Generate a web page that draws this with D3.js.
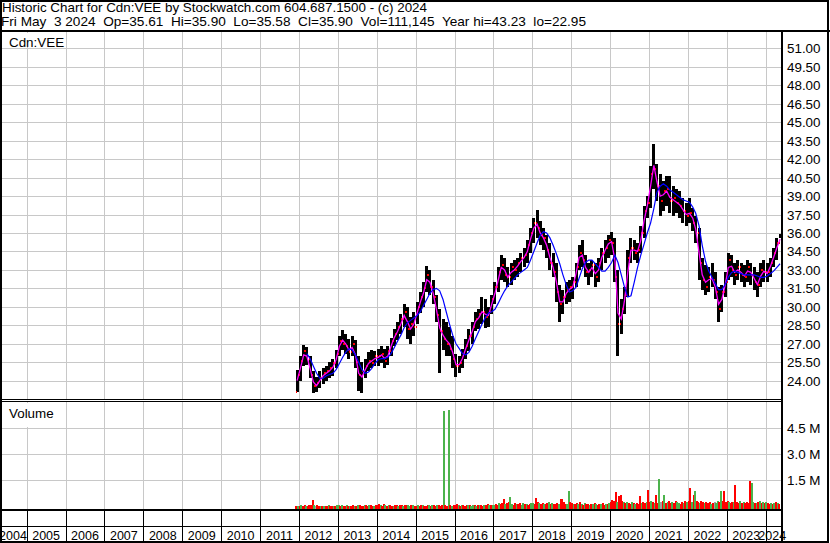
<!DOCTYPE html>
<html>
<head>
<meta charset="utf-8">
<script src="https://cdn.jsdelivr.net/npm/d3@7"></script>
<style>
    body { margin: 0; background: #fff; }
    svg { display: block; font-family: Arial, "Liberation Sans", sans-serif; }
</style>
</head>
<body>
<svg width="830" height="543"></svg>
<script>
// header text
let title1 = "Historic Chart for Cdn:VEE by Stockwatch.com 604.687.1500 - (c) 2024";
let title2 = "Fri May\u00a0 3 2024\u00a0 Op=35.61\u00a0 Hi=35.90\u00a0 Lo=35.58\u00a0 Cl=35.90\u00a0 Vol=111,145\u00a0 Year hi=43.23\u00a0 lo=22.95";

// monthly price data, first month Dec 2011
let priceStart = [2011, 11];
let highs = [24.9,
    26.0, 26.9, 26.7, 26.0, 24.8, 24.3, 24.8, 25.0, 25.2, 25.5, 25.8, 26.5,
    27.6, 28.1, 27.8, 27.4, 27.6, 27.3, 26.0, 25.5, 25.8, 26.3, 26.5, 26.4,
    26.6, 26.8, 26.6, 26.8, 27.5, 28.2, 28.8, 29.4, 30.2, 30.0, 29.2, 29.6,
    30.4, 31.2, 32.0, 33.3, 33.0, 32.2, 31.0, 29.8, 29.0, 28.8, 28.4, 27.6,
    26.2, 26.0, 26.6, 27.4, 28.2, 28.8, 29.6, 29.8, 30.8, 30.6, 30.0, 31.0,
    32.0, 33.2, 34.2, 34.0, 33.2, 33.6, 33.8, 34.0, 34.4, 34.8, 35.4, 36.4,
    37.2, 37.9, 37.0, 36.4, 35.8, 35.2, 34.4, 33.6, 31.8, 31.4, 32.0, 32.2,
    32.4, 33.6, 35.0, 35.4, 34.2, 33.6, 33.8, 33.6, 34.0, 34.8, 35.4, 35.8,
    36.1, 35.6, 33.0, 30.6, 31.6, 34.6, 35.6, 35.4, 35.2, 36.6, 38.2, 39.0,
    41.4, 43.2, 41.6, 40.8, 40.2, 40.6, 40.6, 39.8, 39.6, 39.4, 38.8, 38.4,
    38.8, 38.0, 37.4, 36.4, 34.0, 33.4, 33.2, 33.6, 32.8, 31.6, 31.8, 32.8,
    34.4, 34.2, 33.6, 33.8, 33.6, 33.4, 33.8, 33.6, 33.2, 32.8, 33.6, 33.8,
    33.6, 34.0, 34.8, 35.6, 35.9];
let lows = [23.1,
    24.0, 25.2, 25.3, 24.2, 23.0, 23.1, 23.4, 23.7, 24.0, 24.2, 24.4, 25.0,
    26.0, 26.5, 26.2, 25.8, 26.0, 25.0, 23.2, 23.0, 24.2, 24.8, 25.0, 25.2,
    25.2, 25.4, 25.0, 25.3, 26.0, 26.8, 27.3, 27.8, 28.4, 27.4, 27.0, 27.6,
    28.6, 29.5, 30.0, 31.2, 31.0, 30.2, 28.8, 24.6, 26.5, 26.0, 26.0, 25.0,
    24.3, 24.6, 25.0, 25.8, 26.4, 27.0, 28.0, 28.2, 28.6, 28.3, 28.4, 29.4,
    30.2, 31.2, 32.2, 32.0, 31.6, 31.8, 32.2, 32.4, 32.8, 33.2, 33.6, 34.4,
    35.2, 35.6, 35.0, 34.6, 34.0, 33.0, 32.4, 30.4, 28.8, 29.4, 30.2, 30.4,
    30.6, 31.6, 33.0, 33.2, 32.4, 31.8, 32.4, 31.6, 32.0, 33.0, 33.6, 34.0,
    34.2, 32.0, 26.0, 27.8, 29.4, 30.8, 33.6, 33.8, 33.6, 34.4, 35.6, 37.2,
    38.0, 39.6, 38.6, 37.4, 37.8, 38.2, 37.6, 37.4, 37.6, 37.2, 36.8, 36.6,
    36.8, 36.2, 35.2, 32.2, 31.4, 31.0, 31.2, 31.6, 30.6, 28.8, 29.6, 30.8,
    32.2, 32.4, 31.8, 32.2, 32.0, 31.6, 32.0, 31.8, 31.4, 30.8, 31.6, 32.0,
    32.0, 32.4, 33.2, 33.8, 35.58];
let closes = [24.5,
    25.6, 26.4, 25.8, 24.5, 23.6, 23.8, 24.2, 24.6, 24.8, 25.0, 25.4, 26.2,
    27.2, 27.0, 26.8, 26.3, 27.0, 25.5, 24.5, 24.8, 25.2, 25.6, 25.4, 26.0,
    26.0, 26.2, 25.6, 26.4, 27.2, 27.8, 28.4, 29.0, 29.6, 28.2, 28.6, 28.4,
    30.0, 30.8, 31.5, 32.6, 31.6, 30.8, 29.3, 28.0, 27.4, 27.0, 26.6, 25.8,
    25.2, 25.4, 26.2, 26.8, 27.6, 28.4, 29.0, 29.4, 29.6, 29.2, 29.6, 30.6,
    31.6, 32.8, 33.4, 32.6, 32.4, 33.2, 33.0, 33.6, 34.0, 34.2, 35.0, 36.0,
    36.8, 36.4, 35.8, 35.6, 34.6, 33.6, 32.8, 31.2, 30.2, 30.8, 31.4, 31.6,
    32.0, 33.2, 34.4, 33.8, 32.8, 33.0, 33.4, 32.4, 33.6, 34.4, 34.8, 35.4,
    35.2, 32.4, 28.6, 29.8, 31.0, 34.0, 34.8, 34.4, 34.6, 36.0, 37.8, 38.4,
    40.8, 41.2, 39.8, 38.6, 39.4, 39.6, 38.6, 38.8, 38.4, 38.2, 37.8, 37.4,
    37.6, 36.8, 36.0, 33.6, 32.2, 31.6, 32.4, 32.2, 31.2, 29.8, 31.2, 32.0,
    33.8, 33.0, 32.6, 33.2, 32.6, 32.4, 33.2, 32.6, 32.0, 31.8, 33.0, 32.8,
    32.8, 33.6, 34.4, 35.2, 35.9];
// short average (magenta)
let fastAvg = [24.0,
    25.0, 26.1, 26.0, 25.0, 23.9, 23.6, 24.0, 24.4, 24.6, 24.8, 25.1, 25.7,
    26.8, 27.3, 27.0, 26.5, 26.7, 26.1, 24.6, 24.3, 24.9, 25.4, 25.6, 25.8,
    25.9, 26.1, 25.8, 26.0, 26.8, 27.5, 28.0, 28.6, 29.3, 28.8, 28.2, 28.6,
    29.5, 30.4, 31.1, 32.2, 32.0, 31.1, 29.8, 28.3, 27.7, 27.3, 27.0, 26.3,
    25.3, 25.3, 25.8, 26.6, 27.3, 28.0, 28.8, 29.1, 29.6, 29.4, 29.3, 30.2,
    31.1, 32.2, 33.2, 33.0, 32.4, 32.8, 33.0, 33.3, 33.7, 34.0, 34.5, 35.5,
    36.4, 36.7, 36.0, 35.6, 35.0, 34.0, 33.2, 32.0, 30.4, 30.4, 31.1, 31.4,
    31.6, 32.7, 34.0, 34.2, 33.2, 32.8, 33.2, 32.7, 33.0, 34.0, 34.6, 35.1,
    35.3, 33.8, 29.5, 29.0, 30.5, 32.8, 34.6, 34.6, 34.5, 35.4, 37.0, 38.2,
    39.8, 41.5, 40.2, 39.0, 39.1, 39.4, 38.9, 38.7, 38.5, 38.3, 37.9, 37.5,
    37.6, 37.2, 36.3, 34.4, 32.6, 32.0, 32.2, 32.3, 31.6, 30.2, 30.6, 31.7,
    33.2, 33.3, 32.8, 33.0, 32.8, 32.5, 32.9, 32.8, 32.3, 31.8, 32.5, 32.9,
    32.7, 33.3, 34.0, 34.8, 35.5];
// long average (blue)
let slowAvg = [null,
    null, null, 26.2, 25.8, 25.2, 24.6, 24.2, 24.2, 24.4, 24.5, 24.6, 24.9,
    25.4, 25.9, 26.3, 26.6, 26.5, 26.1, 25.5, 24.9, 24.6, 24.7, 25.0, 25.4,
    25.7, 25.8, 25.8, 25.9, 26.2, 26.7, 27.2, 27.7, 28.3, 28.7, 28.9, 29.1,
    29.3, 29.6, 30.1, 30.6, 31.1, 31.4, 31.5, 31.3, 30.6, 29.6, 28.6, 27.7,
    27.0, 26.6, 26.2, 26.1, 26.3, 26.8, 27.4, 28.0, 28.6, 29.1, 29.5, 29.6,
    29.8, 30.3, 30.8, 31.3, 31.7, 32.0, 32.3, 32.6, 32.8, 33.0, 33.2, 33.8,
    34.5, 35.2, 35.8, 36.1, 36.0, 35.6, 35.0, 34.3, 33.5, 32.6, 31.8, 31.2,
    31.3, 31.6, 32.3, 33.1, 33.6, 33.8, 33.8, 33.5, 33.2, 32.9, 32.9, 33.2,
    33.6, 34.2, 33.6, 32.6, 31.6, 30.8, 30.9, 32.0, 33.2, 34.2, 35.1, 36.0,
    36.8, 38.0, 39.3, 39.8, 40.0, 39.8, 39.5, 39.3, 39.1, 38.9, 38.7, 38.6,
    38.5, 38.1, 37.6, 36.6, 35.0, 33.7, 32.9, 32.4, 31.9, 31.4, 31.4, 31.8,
    32.4, 32.8, 32.9, 32.8, 32.7, 32.6, 32.6, 32.6, 32.6, 32.5, 32.4, 32.4,
    32.5, 32.7, 32.9, 33.2, 33.5];

// half-month volume in thousands, first half Dec 2011
let volStart = [2011, 11];
let volumes = [30, 40,
    40, 60, 30, 50, 40, 30, 60, 50, 360, 80, 30, 50, 40, 30, 20, 30, 40, 30, 50, 30, 40, 30, 40, 50,
    50, 40, 60, 40, 30, 50, 40, 30, 40, 50, 40, 30, 60, 50, 40, 30, 50, 80, 40, 60, 50, 40, 30, 50,
    60, 150, 50, 40, 110, 50, 40, 60, 50, 40, 30, 60, 50, 40, 60, 50, 40, 60, 90, 50, 40, 70, 50, 40,
    40, 50, 40, 60, 50, 40, 30, 70, 50, 40, 90, 50, 40, 90, 50, 40, 60, 5520, 50, 40, 5570, 60, 40, 50,
    60, 150, 50, 40, 60, 50, 40, 70, 50, 60, 40, 80, 50, 40, 60, 50, 60, 40, 70, 50, 130, 60, 50, 70,
    80, 150, 100, 190, 130, 190, 420, 150, 190, 250, 537, 130, 100, 190, 150, 130, 190, 100, 190, 130, 150, 100, 150, 190,
    190, 130, 460, 250, 190, 130, 190, 150, 130, 190, 250, 130, 190, 150, 130, 190, 150, 400, 420, 250, 150, 130, 880, 250,
    190, 150, 130, 190, 150, 250, 130, 100, 190, 130, 150, 100, 130, 150, 190, 130, 100, 150, 130, 190, 100, 130, 150, 190,
    250, 380, 300, 830, 250, 600, 650, 300, 250, 190, 250, 190, 150, 250, 190, 130, 190, 150, 600, 190, 250, 190, 250, 940,
    250, 300, 250, 190, 650, 190, 1575, 250, 300, 650, 190, 250, 300, 190, 250, 190, 300, 250, 190, 150, 250, 190, 300, 250,
    300, 1060, 250, 650, 880, 300, 250, 190, 300, 250, 190, 250, 190, 250, 150, 190, 250, 190, 300, 250, 880, 300, 880, 250,
    300, 250, 190, 250, 250, 1230, 250, 190, 300, 190, 250, 190, 250, 190, 1460, 1340, 250, 190, 190, 250, 300, 190, 250, 190,
    250, 190, 150, 190, 130, 190, 250, 190, 150];
// r = down, g = up, n = unchanged
let volDirs = "rg" +
    "rgrrgr rrrgnr rgrgrr grrgrg" +
    "grgrrg rgrrgr grrrgr rgrrgr" +
    "rrgrrg rgrrgr rgrrgr rggrgr" +
    "rgrrgr rrgrgr rgrrrg rrgrgr" +
    "rrgrgr rrgrgg rgrgrr grrgrg" +
    "grrgrr rgrrgg rrgrrg grgrrg" +
    "grrrgr rgrrgr grrrgr rrrggr" +
    "rgrrgr grgrrg rgrgrr grrgrg" +
    "rrrrgr rrgrgr rgrgrr rgrrgr" +
    "rgrgrr gnrgrg rrgrrg grrgrg" +
    "rrgrgr rgrrgr rrgrng grgrrr" +
    "rgrrgr rrgrgr rrrggr grgrgr" +
    "grrgrgrgr";

let priceTicks = [24, 25.5, 27, 28.5, 30, 31.5, 33, 34.5, 36, 37.5, 39, 40.5, 42, 43.5, 45, 46.5, 48, 49.5, 51];
let volTicks = [1.5, 3.0, 4.5];
let years = d3.range(2004, 2025);

let svg = d3.select("svg");
let lastDay = new Date(2024, 4, 3);

let x = d3.scaleTime()
    .domain([new Date(2005, 0, 1), new Date(2024, 0, 1)])
    .range([26.7, 765.7]);
let y = d3.scaleLinear().domain([24, 51]).range([380.7, 48.3]);
let yv = d3.scaleLinear().domain([0, 4.5]).range([506.3, 428.3]);

let plotRight = 781;
let priceTop = 32, priceBottom = 400;
let volTop = 402, volBottom = 509;

// gridlines
let grid = svg.append("g").attr("stroke", "#c8c8c8").attr("stroke-width", 1).attr("shape-rendering", "crispEdges");
years.slice(1).forEach(function (yr) {
    let gx = Math.round(x(new Date(yr, 0, 1))) + 0.5;
    grid.append("line").attr("x1", gx).attr("x2", gx).attr("y1", priceTop).attr("y2", priceBottom);
    grid.append("line").attr("x1", gx).attr("x2", gx).attr("y1", volTop).attr("y2", volBottom);
});
priceTicks.forEach(function (t) {
    let gy = Math.round(y(t)) + 0.5;
    grid.append("line").attr("x1", 0).attr("x2", plotRight).attr("y1", gy).attr("y2", gy);
});
volTicks.forEach(function (t) {
    let gy = Math.round(yv(t)) + 0.5;
    grid.append("line").attr("x1", 0).attr("x2", plotRight).attr("y1", gy).attr("y2", gy);
});

// panel labels with white boxes
svg.append("rect").attr("x", 4).attr("y", 33).attr("width", 60).attr("height", 14).attr("fill", "#fff");
svg.append("text").attr("x", 9).attr("y", 46.5).attr("font-size", "13.4px").text("Cdn:VEE");
svg.append("rect").attr("x", 4).attr("y", 403).attr("width", 60).attr("height", 24).attr("fill", "#fff");
svg.append("text").attr("x", 9).attr("y", 418).attr("font-size", "13.4px").text("Volume");

// price bars
let bars = highs.map(function (h, i) {
    return {
        date: new Date(priceStart[0], priceStart[1] + i, 15),
        hi: h, lo: lows[i], cl: closes[i],
        op: i > 0 ? closes[i - 1] : lows[i],
        fast: fastAvg[i], slow: slowAvg[i]
    };
});

let barG = svg.append("g").attr("shape-rendering", "crispEdges");
barG.selectAll("rect.bar")
    .data(bars)
    .enter().append("rect")
    .attr("class", "bar")
    .attr("x", function (d) { return Math.floor(x(d.date)) - 1; })
    .attr("width", 3)
    .attr("y", function (d) { return y(d.hi); })
    .attr("height", function (d) { return y(d.lo) - y(d.hi); })
    .attr("fill", "#000");
barG.selectAll("rect.cl")
    .data(bars)
    .enter().append("rect")
    .attr("class", "cl")
    .attr("x", function (d) { return Math.floor(x(d.date)) + 1; })
    .attr("width", 1)
    .attr("y", function (d) { return y(d.cl) - 1; })
    .attr("height", 2)
    .attr("fill", "#ff0000");
barG.selectAll("rect.op")
    .data(bars)
    .enter().append("rect")
    .attr("class", "op")
    .attr("x", function (d) { return Math.floor(x(d.date)) - 1; })
    .attr("width", 1)
    .attr("y", function (d) { return y(d.op) - 1; })
    .attr("height", 2)
    .attr("fill", "#ff0000");

// averages
let fastLine = d3.line()
    .x(function (d) { return x(d.date); })
    .y(function (d) { return y(d.fast); });
let slowLine = d3.line()
    .defined(function (d) { return d.slow !== null; })
    .x(function (d) { return x(d.date); })
    .y(function (d) { return y(d.slow); });

svg.append("path").datum(bars).attr("d", fastLine)
    .attr("fill", "none").attr("stroke", "#ff00ff").attr("stroke-width", 1.3);
svg.append("path").datum(bars).attr("d", slowLine)
    .attr("fill", "none").attr("stroke", "#0000ff").attr("stroke-width", 1.2);

// volume bars
let dirs = volDirs.replace(/ /g, "");
let volColors = {r: "#ff0000", g: "#4cb34c", n: "#a0a0a0"};
let vols = volumes.map(function (v, i) {
    let m = Math.floor(i / 2);
    return {
        date: new Date(volStart[0], volStart[1] + m, i % 2 === 0 ? 8 : 23),
        v: v / 1000,
        dir: dirs[i] || "r"
    };
});
svg.append("g").attr("shape-rendering", "crispEdges")
    .selectAll("rect")
    .data(vols)
    .enter().append("rect")
    .attr("x", function (d) { return Math.round(x(d.date)) - 1; })
    .attr("width", 2)
    .attr("y", function (d) { return Math.round(yv(d.v)); })
    .attr("height", function (d) { return volBottom - Math.round(yv(d.v)); })
    .attr("fill", function (d) { return volColors[d.dir]; });

// frame lines
let frame = svg.append("g").attr("stroke", "#000").attr("shape-rendering", "crispEdges").attr("fill", "none");
frame.append("line").attr("x1", 0).attr("x2", 830).attr("y1", 31).attr("y2", 31).attr("stroke-width", 2);
frame.append("line").attr("x1", 0).attr("x2", plotRight).attr("y1", 399.5).attr("y2", 399.5);
frame.append("line").attr("x1", 0).attr("x2", plotRight).attr("y1", 401.5).attr("y2", 401.5);
frame.append("line").attr("x1", 0).attr("x2", plotRight).attr("y1", 510).attr("y2", 510).attr("stroke-width", 2);
frame.append("line").attr("x1", 0).attr("x2", plotRight).attr("y1", 526.5).attr("y2", 526.5);
frame.append("line").attr("x1", plotRight + 1).attr("x2", plotRight + 1).attr("y1", 31).attr("y2", 542).attr("stroke-width", 2.5);
frame.append("rect").attr("x", 1).attr("y", 1).attr("width", 827).attr("height", 540.5).attr("stroke-width", 2);

// year axis
years.forEach(function (yr) {
    let gx = Math.round(x(new Date(yr, 0, 1))) + 0.5;
    if (gx > 0) {
        frame.append("line").attr("x1", gx).attr("x2", gx).attr("y1", 510).attr("y2", 541);
    }
});
svg.append("g").selectAll("text")
    .data(years)
    .enter().append("text")
    .attr("x", function (yr) {
        let a = x(new Date(yr, 0, 1));
        let b = yr === 2024 ? x(lastDay) : x(new Date(yr + 1, 0, 1));
        return yr === 2004 ? 13 : (a + b) / 2;
    })
    .attr("y", 539.5)
    .attr("text-anchor", "middle")
    .attr("font-size", "12.5px")
    .text(function (yr) { return yr; });

// right axes
svg.append("g").selectAll("text")
    .data(priceTicks)
    .enter().append("text")
    .attr("x", 787)
    .attr("y", function (t) { return y(t) + 5; })
    .attr("font-size", "13.4px")
    .text(function (t) { return d3.format(".2f")(t); });
svg.append("g").selectAll("text")
    .data(volTicks)
    .enter().append("text")
    .attr("x", 787)
    .attr("y", function (t) { return yv(t) + 5; })
    .attr("font-size", "13.4px")
    .text(function (t) { return d3.format(".1f")(t) + " M"; });

// header
svg.append("text").attr("x", 2).attr("y", 11.5).attr("font-size", "13.4px")
    .attr("textLength", 425).attr("lengthAdjust", "spacingAndGlyphs").text(title1);
svg.append("text").attr("x", 1).attr("y", 25.5).attr("font-size", "13.4px")
    .attr("textLength", 585).attr("lengthAdjust", "spacingAndGlyphs").text(title2);
</script>
</body>
</html>
